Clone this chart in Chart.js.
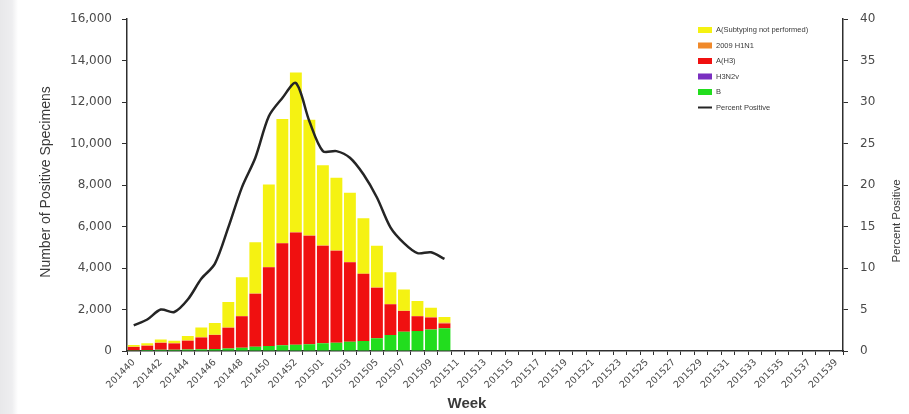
<!DOCTYPE html>
<html>
<head>
<meta charset="utf-8">
<script src="https://cdn.jsdelivr.net/npm/chart.js@4"></script>
<style>
  html, body { margin: 0; padding: 0; }
  body { background: linear-gradient(to right, #e8e8ea 0px, #eeeef0 12px, #ffffff 18px); }
  #wrap { width: 909px; height: 414px; }
</style>
</head>
<body>
<div id="wrap"><canvas id="fluChart" width="909" height="414"></canvas></div>
<script>
// MMWR weeks, 2014-40 to 2015-39 (2014 had 53 weeks)
const weeks = [
    '201440', '201441', '201442', '201443', '201444', '201445', '201446', '201447', '201448',
    '201449', '201450', '201451', '201452', '201453', '201501', '201502', '201503', '201504',
    '201505', '201506', '201507', '201508', '201509', '201510', '201511', '201512', '201513',
    '201514', '201515', '201516', '201517', '201518', '201519', '201520', '201521', '201522',
    '201523', '201524', '201525', '201526', '201527', '201528', '201529', '201530', '201531',
    '201532', '201533', '201534', '201535', '201536', '201537', '201538', '201539'
];

// reported weeks only (201440 - 201510), rest of the season still empty
const fluB = [40, 50, 60, 60, 70, 80, 100, 120, 160, 200, 240, 280, 300, 330, 370, 400, 450, 480, 610, 770, 925, 970, 1040, 1100];
const h3n2v = [0, 0, 0, 0, 0, 0, 0, 0, 0, 0, 0, 0, 0, 0, 0, 0, 0, 0, 0, 0, 0, 0, 0, 0];
const aH3 = [150, 200, 330, 300, 420, 570, 670, 1000, 1520, 2560, 3800, 4910, 5420, 5230, 4710, 4440, 3830, 3240, 2440, 1480, 1005, 710, 570, 230];
const h1n1 = [20, 20, 20, 20, 20, 10, 10, 10, 10, 10, 10, 10, 10, 10, 10, 10, 10, 10, 10, 10, 10, 10, 20, 30];
const aNotSubtyped = [80, 100, 150, 110, 210, 470, 570, 1230, 1870, 2470, 3980, 5990, 7700, 5580, 3870, 3500, 3340, 2670, 2020, 1540, 1020, 720, 460, 280];
const percentPositive = [3.1, 3.8, 5.0, 4.7, 6.2, 8.7, 10.5, 14.9, 19.7, 23.3, 28.3, 30.5, 32.3, 27.7, 24.1, 24.1, 23.3, 21.3, 18.5, 14.9, 13.0, 11.8, 11.9, 11.1];

const leftTicks = [0, 2000, 4000, 6000, 8000, 10000, 12000, 14000, 16000];
const rightTicks = [0, 5, 10, 15, 20, 25, 30, 35, 40];

const axisColor = '#2e2e2e';
const textColor = '#4a4a4a';

// titles and legend drawn at fixed spots, like the original figure
const decorations = {
    id: 'decorations',
    afterDraw(chart) {
        const ctx = chart.ctx;
        ctx.save();
        ctx.fillStyle = '#3a3a3a';
        ctx.textAlign = 'center';
        ctx.textBaseline = 'middle';

        ctx.save();
        ctx.translate(46, 182);
        ctx.rotate(-Math.PI / 2);
        ctx.font = '14px "Liberation Sans", Arial, sans-serif';
        ctx.fillText('Number of Positive Specimens', 0, 0);
        ctx.restore();

        ctx.save();
        ctx.translate(897, 221);
        ctx.rotate(-Math.PI / 2);
        ctx.font = '11.5px "Liberation Sans", Arial, sans-serif';
        ctx.fillText('Percent Positive', 0, 0);
        ctx.restore();

        ctx.font = 'bold 15px "Liberation Sans", Arial, sans-serif';
        ctx.fillText('Week', 467, 404);

        // legend, top to bottom
        const items = [4, 3, 1, 2, 0, 5].map(i => chart.data.datasets[i]);
        ctx.textAlign = 'left';
        ctx.font = '7.5px "Liberation Sans", Arial, sans-serif';
        items.forEach((ds, k) => {
            const y = 30 + k * 15.5;
            if (ds.type === 'line') {
                ctx.strokeStyle = ds.borderColor;
                ctx.lineWidth = 2;
                ctx.beginPath();
                ctx.moveTo(698, y);
                ctx.lineTo(712, y);
                ctx.stroke();
            } else {
                ctx.fillStyle = ds.backgroundColor;
                ctx.fillRect(698, y - 3, 14, 6);
            }
            ctx.fillStyle = '#3a3a3a';
            ctx.fillText(ds.label, 716, y);
        });
        ctx.restore();
    }
};

const ctx = document.getElementById('fluChart').getContext('2d');
const fluChart = new Chart(ctx, {
    type: 'bar',
    data: {
        labels: weeks,
        datasets: [{
                label: 'B',
                data: fluB,
                backgroundColor: '#22dd1e',
                order: 1
            },
            {
                label: 'A(H3)',
                data: aH3,
                backgroundColor: '#f01010',
                order: 1
            },
            {
                label: 'H3N2v',
                data: h3n2v,
                backgroundColor: '#7a2fc0',
                order: 1
            },
            {
                label: '2009 H1N1',
                data: h1n1,
                backgroundColor: '#f0892a',
                order: 1
            },
            {
                label: 'A(Subtyping not performed)',
                data: aNotSubtyped,
                backgroundColor: '#f5f212',
                order: 1
            },
            {
                type: 'line',
                label: 'Percent Positive',
                data: percentPositive,
                yAxisID: 'y1',
                borderColor: '#252525',
                borderWidth: 2.5,
                pointRadius: 0,
                tension: 0.3,
                fill: false,
                order: 0
            }
        ]
    },
    options: {
        responsive: false,
        animation: false,
        layout: { padding: { top: 17, left: 0, right: 0, bottom: 0 } },
        datasets: {
            bar: { barPercentage: 0.88, categoryPercentage: 1.0, borderWidth: 0 }
        },
        plugins: {
            legend: { display: false },
            tooltip: { enabled: false }
        },
        scales: {
            x: {
                stacked: true,
                afterFit: s => { s.height = 63; },
                grid: { display: true, drawOnChartArea: false, drawTicks: true, tickLength: 4, color: axisColor },
                border: { display: true, color: axisColor, width: 1.5 },
                ticks: {
                    autoSkip: false,
                    maxRotation: 45,
                    minRotation: 45,
                    padding: 2,
                    color: textColor,
                    font: { family: '"DejaVu Sans", sans-serif', size: 9.5 },
                    callback: function (value, index) {
                        return index % 2 === 0 ? weeks[index] : '';
                    }
                }
            },
            y: {
                stacked: true,
                position: 'left',
                min: 0,
                max: 16000,
                afterFit: s => { s.width = 127; },
                afterBuildTicks: s => { s.ticks = leftTicks.map(v => ({ value: v })); },
                grid: { display: true, drawOnChartArea: false, drawTicks: true, tickLength: 5, color: axisColor },
                border: { display: true, color: axisColor, width: 1.5 },
                ticks: {
                    padding: 10,
                    color: textColor,
                    font: { family: '"DejaVu Sans", sans-serif', size: 12 },
                    callback: v => v.toLocaleString('en-US')
                }
            },
            y1: {
                position: 'right',
                min: 0,
                max: 40,
                afterFit: s => { s.width = 66; },
                afterBuildTicks: s => { s.ticks = rightTicks.map(v => ({ value: v })); },
                grid: { display: true, drawOnChartArea: false, drawTicks: true, tickLength: 5, color: axisColor },
                border: { display: true, color: axisColor, width: 1.5 },
                ticks: {
                    padding: 12,
                    color: textColor,
                    font: { family: '"DejaVu Sans", sans-serif', size: 12 }
                }
            }
        }
    },
    plugins: [decorations]
});
</script>
</body>
</html>
